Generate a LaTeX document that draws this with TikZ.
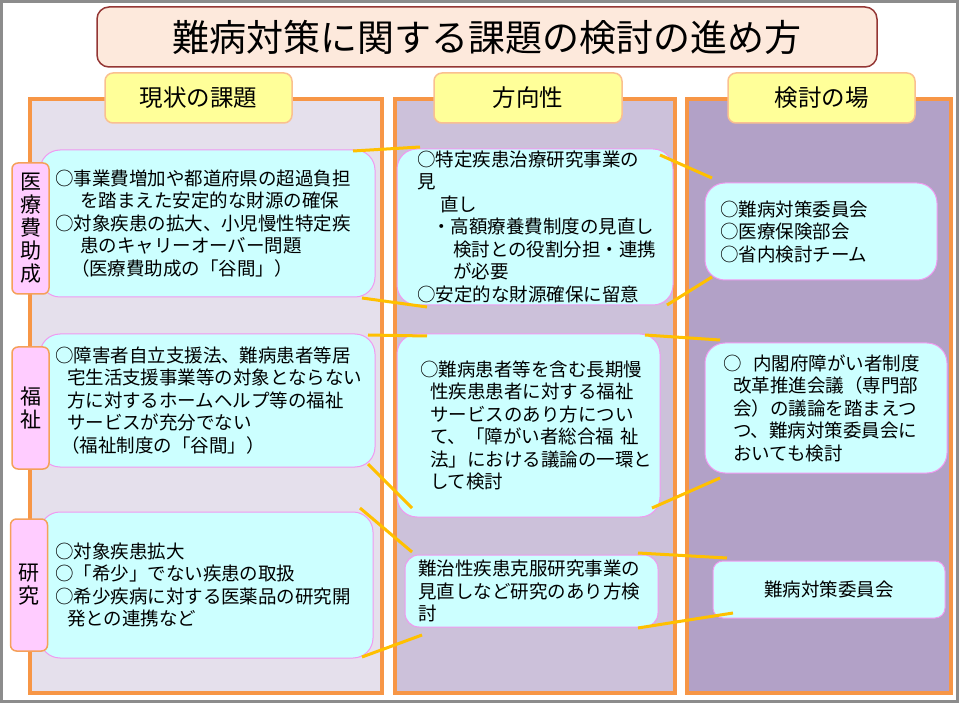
\documentclass[tikz,border=0pt]{standalone}
\usepackage{fontspec}
\setmainfont{Noto Sans CJK JP}
\definecolor{frameg}{HTML}{8C8C8C}
\definecolor{titlefill}{HTML}{FDE9DC}
\definecolor{titleborder}{HTML}{943634}
\definecolor{colorange}{HTML}{F79646}
\definecolor{colA}{HTML}{E5E0EC}
\definecolor{colB}{HTML}{CCC1DA}
\definecolor{colC}{HTML}{B2A1C7}
\definecolor{hdrfill}{HTML}{FFFF99}
\definecolor{hdrborder}{HTML}{FAC090}
\definecolor{sidefill}{HTML}{FFCCFF}
\definecolor{sideborder}{HTML}{F5A05A}
\definecolor{cboxfill}{HTML}{CCFFFF}
\definecolor{cboxborder}{HTML}{F099F0}
\definecolor{connc}{HTML}{FFC000}
\tikzset{
  colbox/.style={draw=colorange, line width=4pt, inner sep=0pt},
  hdr/.style={draw=hdrborder, fill=hdrfill, line width=1.5pt, rounded corners=8pt,
    minimum width=187pt, minimum height=50pt, inner sep=0pt,
    font=\fontsize{23.5}{27}\selectfont},
  side/.style={draw=sideborder, fill=sidefill, line width=1.5pt, rounded corners=6pt,
    minimum width=37pt, align=center, inner sep=0pt,
    font=\fontsize{21}{23}\selectfont},
  cbox/.style={draw=cboxborder, fill=cboxfill, line width=1pt, rounded corners=20pt,
    inner sep=0pt, align=left, font=\fontsize{18.5}{22.5}\selectfont},
  conn/.style={draw=connc, line width=3pt},
}
\begin{document}
\begin{tikzpicture}[x=1pt, y=-1pt]
\useasboundingbox (0,0) rectangle (959,703);
% outer frame
\draw[frameg, line width=3pt] (1.5,1.5) rectangle (957.5,701.5);
% title
\node[draw=titleborder, fill=titlefill, line width=1.5pt, rounded corners=12pt,
  minimum width=780pt, minimum height=60pt, inner sep=0pt,
  font=\fontsize{37}{40}\selectfont] (title) at (487,37) {難病対策に関する課題の検討の進め方};
% columns
\node[colbox, fill=colA, minimum width=352pt, minimum height=594pt] (col1) at (206,396) {};
\node[colbox, fill=colB, minimum width=280pt, minimum height=594pt] (col2) at (535,396) {};
\node[colbox, fill=colC, minimum width=264pt, minimum height=594pt] (col3) at (819,396) {};
% headers
\node[hdr] (h1) at (198.5,98) {現状の課題};
\node[hdr, minimum width=188pt] (h2) at (528,98) {方向性};
\node[hdr] (h3) at (821.5,98) {検討の場};
% left boxes
\node[cbox, minimum width=335pt, minimum height=147pt, text width=305pt] (L1) at (207.5,223.5) {%
○事業費増加や都道府県の超過負担\\
\hspace*{25pt}を踏まえた安定的な財源の確保\\
○対象疾患の拡大、小児慢性特定疾\\
\hspace*{25pt}患のキャリーオーバー問題\\
\hspace*{16pt}（医療費助成の「谷間」）};
\node[cbox, minimum width=335pt, minimum height=133pt, text width=305pt] (L2) at (207.5,400.5) {%
○障害者自立支援法、難病患者等居\\
\hspace*{12pt}宅生活支援事業等の対象とならない\\
\hspace*{12pt}方に対するホームヘルプ等の福祉\\
\hspace*{12pt}サービスが充分でない\\
\hspace*{6pt}（福祉制度の「谷間」）};
\node[cbox, minimum width=333pt, minimum height=146pt, text width=303pt] (L3) at (206.5,585) {%
○対象疾患拡大\\
○「希少」でない疾患の取扱\\
○希少疾病に対する医薬品の研究開\\
\hspace*{12pt}発との連携など};
% middle boxes
\node[cbox, minimum width=276pt, minimum height=156pt, text width=236pt] (M1) at (535,227) {%
○特定疾患治療研究事業の\\
見\\
\hspace*{23pt}直し\\
\hspace*{15pt}・高額療養費制度の見直し\\
\hspace*{36pt}検討との役割分担・連携\\
\hspace*{36pt}が必要\\
○安定的な財源確保に留意};
\node[cbox, minimum width=263pt, minimum height=183pt, text width=217pt] (M2) at (528.5,425.5) {%
○難病患者等を含む長期慢\\
\hspace*{10pt}性疾患患者に対する福祉\\
\hspace*{10pt}サービスのあり方につい\\
\hspace*{10pt}て、「障がい者総合福~祉\\
\hspace*{10pt}法」における議論の一環と\\
\hspace*{10pt}して検討};
\node[cbox, rounded corners=14pt, minimum width=253pt, minimum height=72pt, text width=227pt] (M3) at (531.5,591) {%
難治性疾患克服研究事業の\\
見直しなど研究のあり方検\\
討};
% right boxes
\node[cbox, minimum width=232pt, minimum height=97pt, text width=202pt] (R1) at (821,231.5) {%
○難病対策委員会\\
○医療保険部会\\
○省内検討チーム};
\node[cbox, minimum width=242pt, minimum height=130pt, text width=206pt] (R2) at (826,408) {%
○\hspace{12pt}内閣府障がい者制度\\
\hspace*{10pt}改革推進会議（専門部\\
\hspace*{10pt}会）の議論を踏まえつ\\
\hspace*{10pt}つ、難病対策委員会に\\
\hspace*{10pt}おいても検討};
\node[cbox, rounded corners=10pt, align=center, minimum width=232pt, minimum height=57pt] (R3) at (829,589.5) {難病対策委員会};
% side labels
\node[side, minimum height=131pt] (s1) at (30.5,228.5) {医\\療\\費\\助\\成};
\node[side, minimum height=122pt] (s2) at (30.5,408) {福\\祉};
\node[side, minimum height=132pt] (s3) at (29,585) {研\\究};
% connector end points
\coordinate (a1) at (353,151); \coordinate (a2) at (420,147);
\coordinate (b1) at (362,298); \coordinate (b2) at (427,307);
\coordinate (c1) at (660,155); \coordinate (c2) at (712,178);
\coordinate (d1) at (667,305); \coordinate (d2) at (712,277);
\coordinate (e1) at (368,335); \coordinate (e2) at (427,336);
\coordinate (f1) at (368,464); \coordinate (f2) at (412,508);
\coordinate (g1) at (645,335); \coordinate (g2) at (720,340);
\coordinate (h1c) at (652,508); \coordinate (h2c) at (720,478);
\coordinate (i1) at (360,508); \coordinate (i2) at (412,552);
\coordinate (j1) at (362,657); \coordinate (j2) at (422,635);
\coordinate (k1) at (638,553); \coordinate (k2) at (727,558);
\coordinate (l1) at (638,628); \coordinate (l2) at (733,613);
% connectors
\draw[conn] (a1) -- (a2);
\draw[conn] (b1) -- (b2);
\draw[conn] (c1) -- (c2);
\draw[conn] (d1) -- (d2);
\draw[conn] (e1) -- (e2);
\draw[conn] (f1) -- (f2);
\draw[conn] (g1) -- (g2);
\draw[conn] (h1c) -- (h2c);
\draw[conn] (i1) -- (i2);
\draw[conn] (j1) -- (j2);
\draw[conn] (k1) -- (k2);
\draw[conn] (l1) -- (l2);
\end{tikzpicture}
\end{document}
